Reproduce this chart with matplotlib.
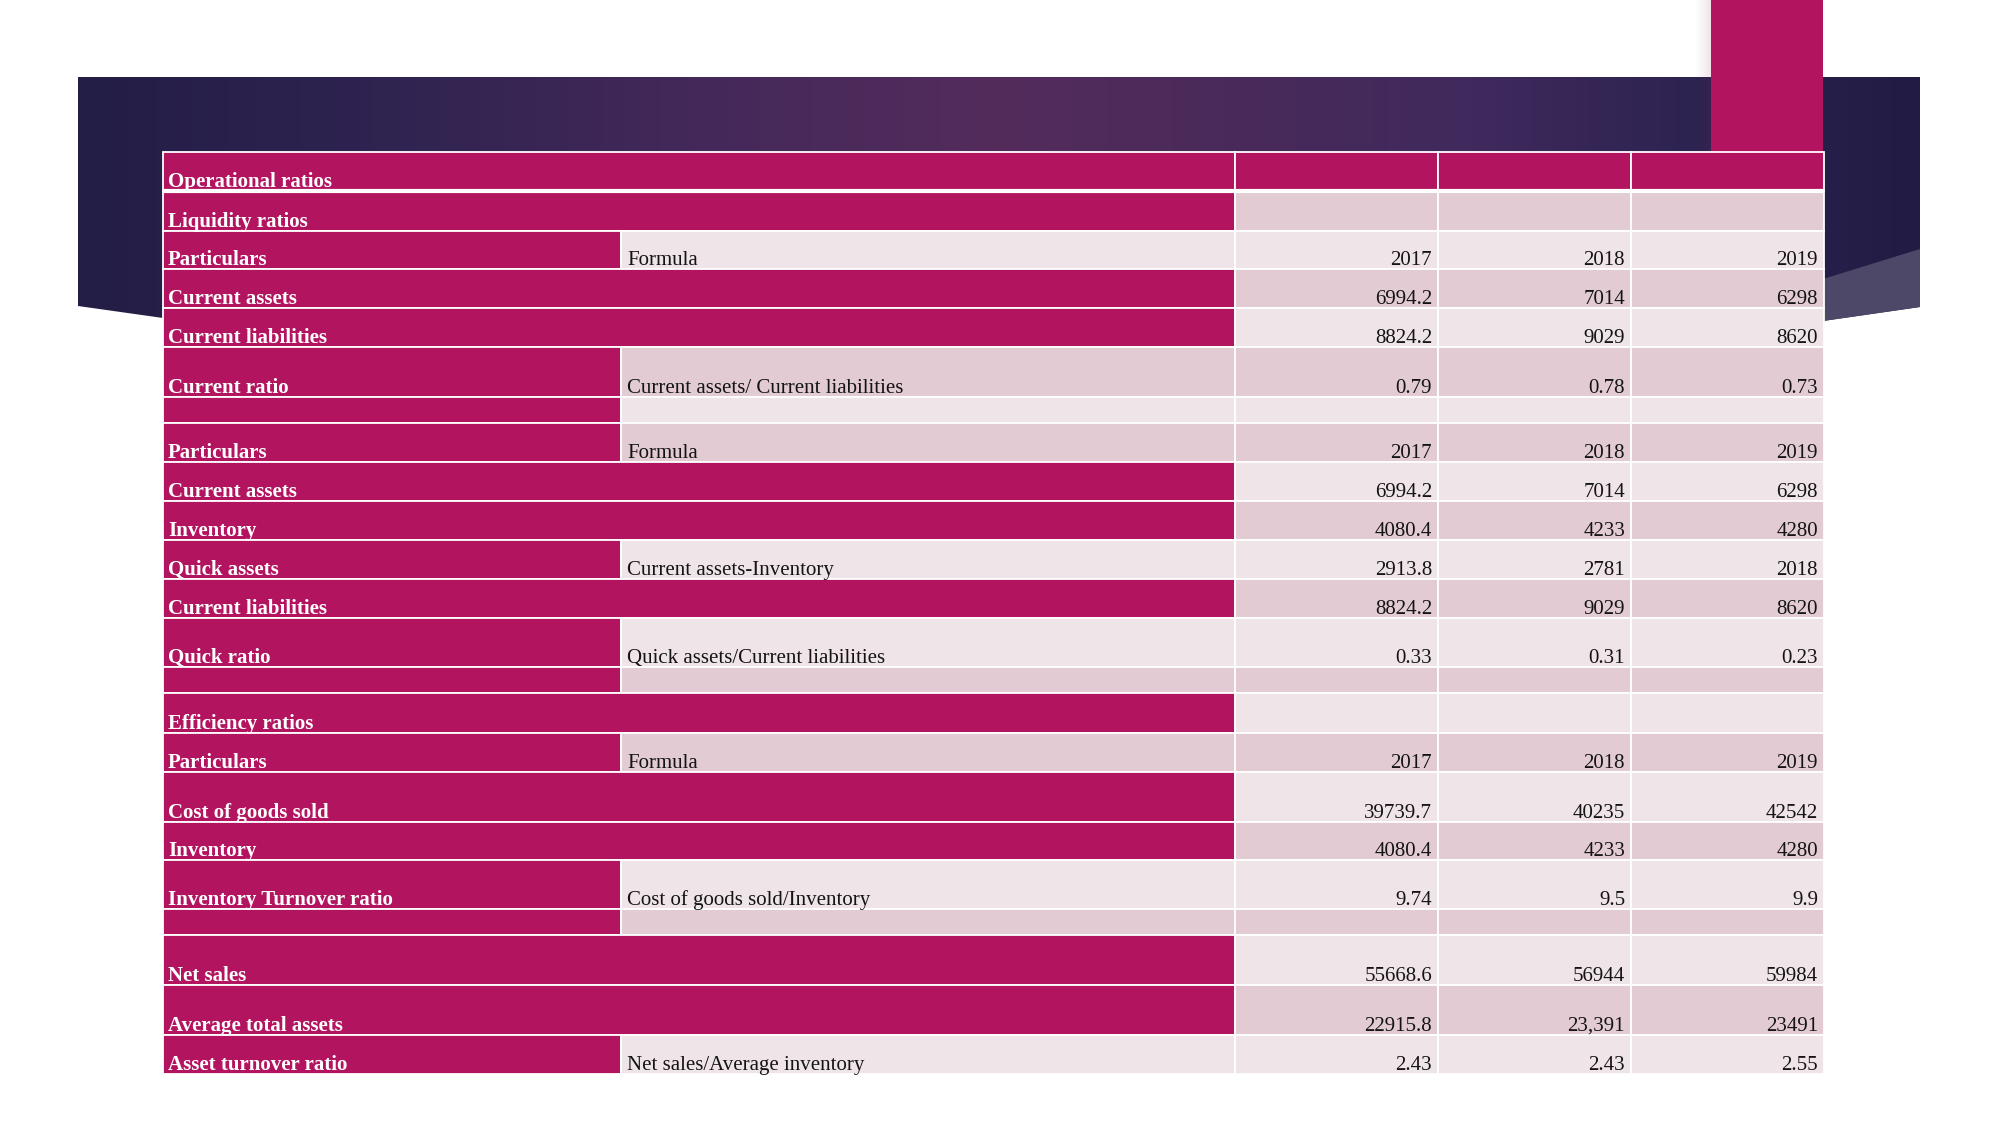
import numpy as np
import matplotlib.pyplot as plt
from matplotlib.patches import Rectangle, Polygon
from matplotlib.colors import LinearSegmentedColormap

# table content
labels = ["Operational ratios", "Liquidity ratios", "Particulars", "Current assets",
          "Current liabilities", "Current ratio", "", "Particulars", "Current assets",
          "Inventory", "Quick assets", "Current liabilities", "Quick ratio", "",
          "Efficiency ratios", "Particulars", "Cost of goods sold", "Inventory",
          "Inventory Turnover ratio", "", "Net sales", "Average total assets",
          "Asset turnover ratio"]
# None -> label cell spans the formula column
formulas = [None, None, "Formula", None, None, "Current assets/ Current liabilities", "",
            "Formula", None, None, "Current assets-Inventory", None,
            "Quick assets/Current liabilities", "", None, "Formula", None, None,
            "Cost of goods sold/Inventory", "", None, None, "Net sales/Average inventory"]
values_2017 = ["", "", "2017", "6994.2", "8824.2", "0.79", "", "2017", "6994.2", "4080.4",
               "2913.8", "8824.2", "0.33", "", "", "2017", "39739.7", "4080.4", "9.74", "",
               "55668.6", "22915.8", "2.43"]
values_2018 = ["", "", "2018", "7014", "9029", "0.78", "", "2018", "7014", "4233",
               "2781", "9029", "0.31", "", "", "2018", "40235", "4233", "9.5", "",
               "56944", "23,391", "2.43"]
values_2019 = ["", "", "2019", "6298", "8620", "0.73", "", "2019", "6298", "4280",
               "2018", "8620", "0.23", "", "", "2019", "42542", "4280", "9.9", "",
               "59984", "23491", "2.55"]

# layout in pixels
row_edges = [152, 191, 231, 269, 308, 347, 397, 423, 462, 501, 540, 579, 618, 667,
             693, 733, 772, 822, 860, 909, 935, 985, 1035, 1074]
col_edges = [163, 621, 1235, 1438, 1631, 1824]

MAGENTA = "#b3145f"
DARK = "#e2cbd2"
LIGHT = "#efe4e8"
FONT = "Liberation Serif"
FS = 15

fig = plt.figure(figsize=(20.01, 11.25), dpi=100)
ax = fig.add_axes([0, 0, 1, 1])
fig.patch.set_facecolor("white")

# banner with horizontal gradient
cmap = LinearSegmentedColormap.from_list("banner", [
    (0.0, "#231e46"), (0.15, "#2e2350"), (0.35, "#45295a"), (0.5, "#532c5c"),
    (0.62, "#4a2a5a"), (0.76, "#40295d"), (0.88, "#2c2350"), (1.0, "#221c44")])
banner = Polygon([(78, 77), (1920, 77), (1920, 307), (1823, 321), (163, 318), (78, 306)],
                 closed=True, transform=ax.transData, facecolor="none", edgecolor="none")
ax.add_patch(banner)
grad = np.linspace(0, 1, 512).reshape(1, -1)
im = ax.imshow(grad, cmap=cmap, extent=(78, 1920, 321, 77), aspect="auto", zorder=1)
im.set_clip_path(banner)
ax.add_patch(Polygon([(1823, 279), (1920, 249), (1920, 307), (1823, 321)], closed=True,
                     facecolor="#4e4868", edgecolor="none", zorder=2))

# magenta accent with soft shadow
for k in range(10):
    ax.add_patch(Rectangle((1711 - (k + 1) * 1.5, 0), 1.5, 152, facecolor="#8a2a60",
                           alpha=0.12 * (1 - k / 10), edgecolor="none", zorder=2))
ax.add_patch(Rectangle((1711, 0), 112, 152, facecolor=MAGENTA, edgecolor="none", zorder=3))


def cell(x0, x1, y0, y1, color):
    ax.add_patch(Rectangle((x0, y0), x1 - x0, y1 - y0, facecolor=color,
                           edgecolor="white", linewidth=1.3, zorder=4))


for i, label in enumerate(labels):
    top, bottom = row_edges[i], row_edges[i + 1]
    band = DARK if i % 2 == 1 else LIGHT
    base = bottom - 4
    if i == 0:
        cell(col_edges[0], col_edges[2], top, bottom, MAGENTA)
        for j in range(2, 5):
            cell(col_edges[j], col_edges[j + 1], top, bottom, MAGENTA)
    else:
        if formulas[i] is None:
            cell(col_edges[0], col_edges[2], top, bottom, MAGENTA)
        else:
            cell(col_edges[0], col_edges[1], top, bottom, MAGENTA)
            cell(col_edges[1], col_edges[2], top, bottom, band)
            ax.text(col_edges[1] + 6, base, formulas[i], family=FONT, fontsize=FS,
                    color="#141414", ha="left", va="baseline", zorder=5)
        for j, vals in enumerate([values_2017, values_2018, values_2019]):
            cell(col_edges[2 + j], col_edges[3 + j], top, bottom, band)
            ax.text(col_edges[3 + j] - 6, base, vals[i], family=FONT, fontsize=FS,
                    color="#141414", ha="right", va="baseline", zorder=5)
    ax.text(col_edges[0] + 5, base, label, family=FONT, fontsize=FS, fontweight="bold",
            color="white", ha="left", va="baseline", zorder=5)

# wider gap under the first header row
ax.plot([col_edges[0], col_edges[-1]], [row_edges[1], row_edges[1]], color="white",
        linewidth=3, zorder=4.5, solid_capstyle="butt")

ax.set_xlim(0, 2001)
ax.set_ylim(1125, 0)
ax.axis("off")

fig.savefig("out.png", dpi=100, facecolor="white")
